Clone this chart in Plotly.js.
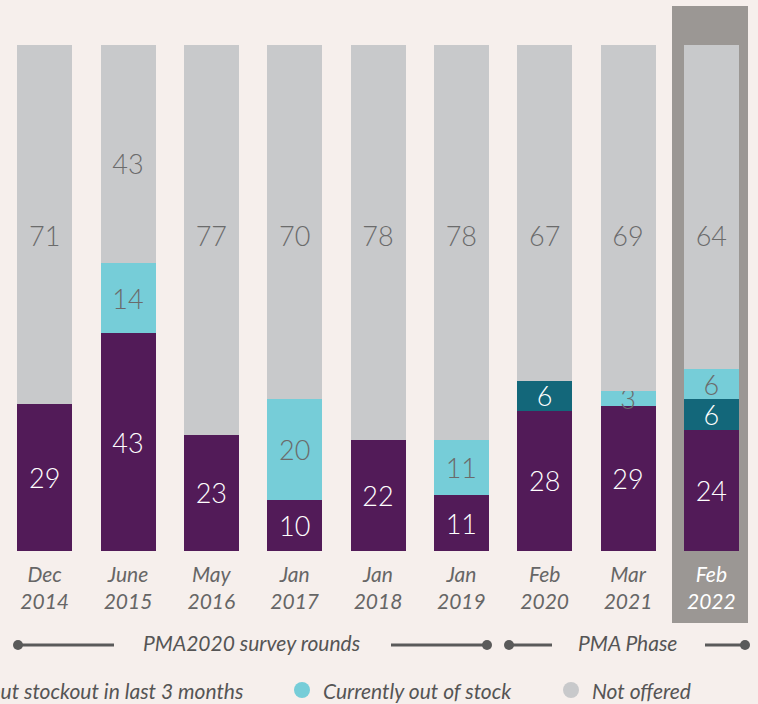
<!DOCTYPE html>
<html><head><meta charset="utf-8">
<script src="https://cdn.plot.ly/plotly-3.0.1.min.js"></script>
<style>html,body{margin:0;padding:0;background:#f6efec;}</style>
</head><body><div id="chart" style="width:758px;height:704px;"></div>
<script>
// ---- data ----
const categories = ['Dec 2014','June 2015','May 2016','Jan 2017','Jan 2018','Jan 2019','Feb 2020','Mar 2021','Feb 2022'];
const tickTop = ['Dec','June','May','Jan','Jan','Jan','Feb','Mar','Feb'];
const tickBottom = ['2014','2015','2016','2017','2018','2019','2020','2021','2022'];
const inStockNoStockout = [29,43,23,10,22,11,28,29,24];
const inStockButStockout = [0,0,0,0,0,0,6,0,6];
const currentlyOutOfStock = [0,14,0,20,0,11,0,3,6];
const notOffered = [71,43,77,70,78,78,67,69,64];
const seriesNames = ['In stock, no stockout in last 3 months','In stock but stockout in last 3 months','Currently out of stock','Not offered'];

// ---- styles ----
const BG = '#f6efec';
const COLORS = ['#521b58','#13677a','#76cdd8','#c8c9cb'];
const GRAYTXT = '#6b6b6b';
const FONT = 'Lato, "Open Sans", sans-serif';
const VALSIZE = 27;

function labels(arr){ return arr.map(v => v > 0 ? String(v) : ''); }

const series = [inStockNoStockout, inStockButStockout, currentlyOutOfStock];
const txtColors = ['#ffffff','#ffffff',GRAYTXT];
const traces = series.map((vals,i) => ({
  type:'bar', x:categories, y:vals, name:seriesNames[i],
  marker:{color:COLORS[i], line:{width:0}},
  text:labels(vals), texttemplate:'%{text}', textposition:'inside',
  insidetextanchor:'middle', constraintext:'none', textangle:0,
  textfont:{family:FONT, size:VALSIZE, color:txtColors[i], weight:300},
  hoverinfo:'skip', showlegend:false
}));
traces.push({
  type:'bar', x:categories, y:notOffered, name:seriesNames[3],
  marker:{color:COLORS[3], line:{width:0}}, hoverinfo:'skip', showlegend:false
});
// labels for "Not offered" segments
const totals = categories.map((c,i)=>inStockNoStockout[i]+inStockButStockout[i]+currentlyOutOfStock[i]+notOffered[i]);
const grayLabelY = categories.map((c,i)=>{
  const lower = (totals[i]-notOffered[i])/totals[i]*100;
  return lower > 50 ? (lower+100)/2 - 2.6 : 61.6;
});
traces.push({
  type:'scatter', mode:'text', x:categories, y:grayLabelY, text:labels(notOffered),
  textposition:'middle center', textfont:{family:FONT, size:VALSIZE, color:GRAYTXT, weight:300},
  hoverinfo:'skip', showlegend:false, cliponaxis:false
});

const tickText = categories.map((c,i)=> i === categories.length-1
  ? '<span style="color:#ffffff">'+tickTop[i]+'</span><br><span style="color:#ffffff">'+tickBottom[i]+'</span>'
  : tickTop[i]+'<br>'+tickBottom[i]);

// pixel -> paper helpers (plot area: x 3..753, y 45..551)
const L=3, R=5, T=45, B=153, W=758, H=704;
const pw = W-L-R, ph = H-T-B;
const px = v => (v-L)/pw;
const py = v => (H-B-v)/ph;

const LINE = '#5a5a5a';
const TXT = '#555555';
const shapes = [];
// highlight rectangle behind last category
shapes.push({type:'rect', xref:'paper', yref:'paper', x0:px(672), x1:px(748), y0:py(623), y1:py(6),
  fillcolor:'#9b9794', line:{width:0}, layer:'below'});
// bracket lines
const bracketY = py(645);
[[18,114],[391,487],[509,552],[705,745]].forEach(s=>{
  shapes.push({type:'line', xref:'paper', yref:'paper', x0:px(s[0]), x1:px(s[1]), y0:bracketY, y1:bracketY,
    line:{color:LINE, width:3}});
});
[18,487,509,745].forEach(x=>{
  shapes.push({type:'circle', xref:'paper', yref:'paper', xsizemode:'pixel', ysizemode:'pixel',
    xanchor:px(x), yanchor:bracketY, x0:-5, x1:5, y0:-5, y1:5, fillcolor:LINE, line:{width:0}});
});
const textY = py(642);
const annotations = [
  {xref:'paper', yref:'paper', x:px(251), y:textY, text:'PMA2020 survey rounds', showarrow:false,
   font:{family:FONT, size:21, color:TXT, style:'italic'}, xanchor:'center', yanchor:'middle'},
  {xref:'paper', yref:'paper', x:px(627), y:textY, text:'PMA Phase', showarrow:false,
   font:{family:FONT, size:21, color:TXT, style:'italic'}, xanchor:'center', yanchor:'middle'}
];
// legend row (partly outside the left edge, as in the reference)
const legY = py(690);
annotations.push({xref:'paper', yref:'paper', x:px(245), y:legY, text:seriesNames[1], showarrow:false,
  font:{family:FONT, size:21, color:TXT, style:'italic'}, xanchor:'right', yanchor:'middle'});
[{dot:302, i:2},{dot:571, i:3}].forEach(it=>{
  shapes.push({type:'circle', xref:'paper', yref:'paper', xsizemode:'pixel', ysizemode:'pixel',
    xanchor:px(it.dot), yanchor:legY, x0:-8, x1:8, y0:-8, y1:8, fillcolor:COLORS[it.i], line:{width:0}});
  annotations.push({xref:'paper', yref:'paper', x:px(it.dot+19), y:legY, text:seriesNames[it.i], showarrow:false,
    font:{family:FONT, size:21, color:TXT, style:'italic'}, xanchor:'left', yanchor:'middle'});
});

const layout = {
  width:W, height:H, margin:{l:L, r:R, t:T, b:B, pad:0},
  paper_bgcolor:BG, plot_bgcolor:'rgba(0,0,0,0)',
  barmode:'stack', barnorm:'percent', bargap:0.34,
  showlegend:false, hovermode:false,
  xaxis:{type:'category', tickvals:categories, ticktext:tickText, ticks:'', showline:false, showgrid:false,
    zeroline:false, fixedrange:true, ticklabelstandoff:9,
    tickfont:{family:FONT, size:21, color:'#666666', style:'italic'}},
  yaxis:{range:[0,100], visible:false, fixedrange:true},
  shapes:shapes, annotations:annotations
};
Plotly.newPlot('chart', traces, layout, {displayModeBar:false, staticPlot:true});
</script></body></html>
